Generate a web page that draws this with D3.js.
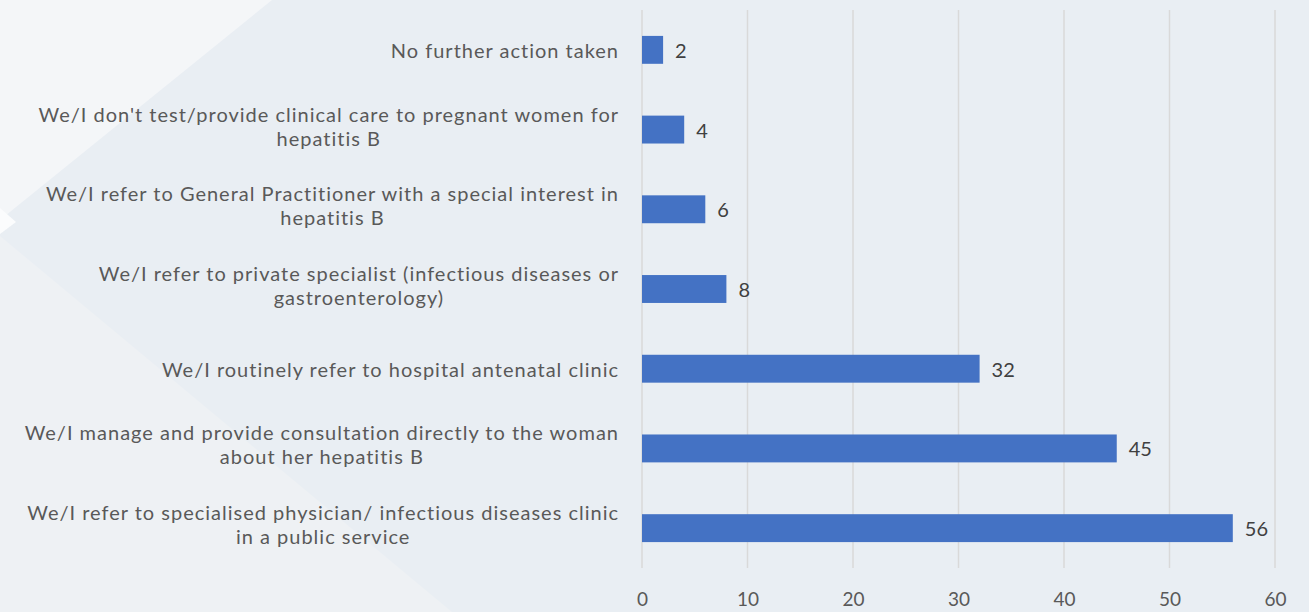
<!DOCTYPE html>
<html>
<head>
<meta charset="utf-8">
<script src="https://cdn.jsdelivr.net/npm/d3@7"></script>
<style>
  html, body { margin: 0; padding: 0; background: #e9eef3; }
  svg { display: block; }
</style>
</head>
<body>
<svg id="chart"></svg>
<script>
const W = 1309, H = 612
const margin = {top: 10, right: 34, bottom: 44, left: 642}

// data, top to bottom
const labels = [
  ["No further action taken"],
  ["We/I don't test/provide clinical care to pregnant women for", "hepatitis B"],
  ["We/I refer to General Practitioner with a special interest in", "hepatitis B"],
  ["We/I refer to private specialist (infectious diseases or", "gastroenterology)"],
  ["We/I routinely refer to hospital antenatal clinic"],
  ["We/I manage and provide consultation directly to the woman", "about her hepatitis B"],
  ["We/I refer to specialised physician/ infectious diseases clinic", "in a public service"]
]
const values = [2, 4, 6, 8, 32, 45, 56]
const xTicks = [0, 10, 20, 30, 40, 50, 60]

const fontFam = "Lato, 'Open Sans', sans-serif"

let svg = d3.select("#chart").attr("width", W).attr("height", H)

// background shapes
svg.append("rect").attr("width", W).attr("height", H).attr("fill", "#e9eef3")
svg.append("polygon").attr("points", "0,0 272,0 0,220").attr("fill", "#f4f6f8")
svg.append("polygon").attr("points", "0,236 452,612 0,612").attr("fill", "#eef1f4")
svg.append("polygon").attr("points", "0,208 16,222 0,234").attr("fill", "#fbfcfd")

let width = W - margin.left - margin.right,
    height = H - margin.top - margin.bottom

let x = d3.scaleLinear().domain([0, 60]).range([0, width])
let y = d3.scaleBand()
    .domain(d3.range(values.length))
    .range([0, height])
    .paddingInner(0.65)
    .paddingOuter(0.325)

let g = svg.append("g").attr("transform", "translate(" + margin.left + "," + margin.top + ")")

// gridlines
g.selectAll(".grid").data(xTicks).enter().append("line")
    .attr("x1", d => x(d)).attr("x2", d => x(d))
    .attr("y1", 0).attr("y2", height)
    .attr("stroke", "#d9d9d9").attr("stroke-width", 1.5)

// bottom tick labels through an axis
let xAxis = d3.axisBottom(x).tickValues(xTicks).tickSize(0).tickPadding(25)
let ax = g.append("g").attr("transform", "translate(0," + height + ")").call(xAxis)
ax.select(".domain").remove()
ax.selectAll("text").attr("fill", "#595959").style("font-family", fontFam).style("font-size", "19px")

// bars
g.selectAll(".bar").data(values).enter().append("rect")
    .attr("x", 0)
    .attr("y", (d, i) => y(i))
    .attr("width", d => x(d))
    .attr("height", y.bandwidth())
    .attr("fill", "#4472c4")

// value labels
g.selectAll(".val").data(values).enter().append("text")
    .attr("x", d => x(d) + 12)
    .attr("y", (d, i) => y(i) + y.bandwidth() / 2 + 1)
    .attr("dy", "0.35em")
    .attr("fill", "#404040")
    .style("font-family", fontFam).style("font-size", "20px")
    .text(d => d)

// category labels, lines centred inside a right-aligned block
const rightEdge = 619, lineH = 24
labels.forEach((lines, i) => {
  let cy = margin.top + y(i) + y.bandwidth() / 2 + (lines.length > 1 ? -3 : 1)
  let grp = svg.append("g")
  let texts = lines.map((t, j) => grp.append("text")
      .attr("y", cy + (j - (lines.length - 1) / 2) * lineH)
      .attr("dy", "0.35em")
      .attr("text-anchor", "middle")
      .attr("fill", "#595959")
      .style("font-family", fontFam).style("font-size", "20px")
      .style("letter-spacing", "1px")
      .text(t))
  let maxW = d3.max(texts, t => t.node().getComputedTextLength())
  texts.forEach(t => t.attr("x", rightEdge - maxW / 2))
})
</script>
</body>
</html>
